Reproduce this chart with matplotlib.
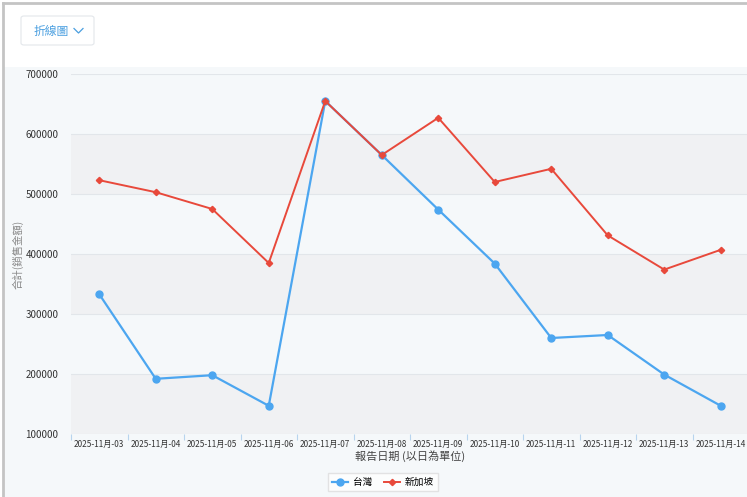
import matplotlib
matplotlib.use("Agg")
import matplotlib.pyplot as plt
from matplotlib.patches import Rectangle, FancyBboxPatch
from matplotlib.lines import Line2D

plt.rcParams['font.family'] = ['Noto Sans CJK TC', 'DejaVu Sans']

# 資料
日期 = ['2025-11月-03', '2025-11月-04', '2025-11月-05', '2025-11月-06',
      '2025-11月-07', '2025-11月-08', '2025-11月-09', '2025-11月-10',
      '2025-11月-11', '2025-11月-12', '2025-11月-13', '2025-11月-14']
台灣 = [333000, 192000, 198000, 147000, 655000, 565000,
      474000, 384000, 260000, 265000, 199000, 147000]
新加坡 = [523000, 503000, 475000, 385000, 655000, 565000,
       627000, 520000, 542000, 431000, 374000, 407000]
y_ticks = [100000, 200000, 300000, 400000, 500000, 600000, 700000]

W, H = 747, 497
fig = plt.figure(figsize=(W / 100, H / 100), dpi=100)
fig.patch.set_facecolor('white')


def fx(x):
    return x / W


def fy(y):
    return 1 - y / H


# 背景面板與外框
fig.patches.append(Rectangle((fx(4), 0), 1, fy(67), transform=fig.transFigure,
                             facecolor='#f5f8fa', edgecolor='none', zorder=-5))
fig.add_artist(Line2D([fx(3), fx(3)], [0, fy(3)], color='#c4c4c4', lw=2))
fig.add_artist(Line2D([fx(3), 1], [fy(3), fy(3)], color='#c4c4c4', lw=2))

# 下拉選單
fig.patches.append(FancyBboxPatch((fx(21), fy(45)), fx(94) - fx(21), fy(16) - fy(45),
                                  boxstyle='round,pad=0,rounding_size=0.004',
                                  transform=fig.transFigure, facecolor='white',
                                  edgecolor='#e3e7eb', lw=0.8))
fig.text(fx(34), fy(31), '折線圖', color='#4a9fe0', fontsize=8.5, va='center', ha='left')
fig.add_artist(Line2D([fx(74), fx(78.5), fx(83)], [fy(28.5), fy(33), fy(28.5)],
                      color='#4a9fe0', lw=0.9))

# 圖表
ax = fig.add_axes([fx(71), fy(434), fx(749) - fx(71), fy(74) - fy(434)])
ax.set_zorder(2)
ax.set_facecolor('#f5f8fa')
x = list(range(len(日期)))
ax.set_xlim(-0.5, len(日期) - 0.5)
ax.set_ylim(100000, 700000)

for i, lo in enumerate(y_ticks[:-1]):
    if i % 2 == 0:
        ax.axhspan(lo, lo + 100000, color='#f0f1f3', zorder=0, lw=0)
for t in y_ticks:
    ax.axhline(t, color='#e2e6ea', lw=0.8, zorder=1)

ax.plot(x, 台灣, color='#4ca6f0', lw=1.6, marker='o', ms=5, zorder=3, label='台灣')
ax.plot(x, 新加坡, color='#e8493b', lw=1.4, marker='D', ms=3.2, zorder=4, label='新加坡')

for s in ax.spines.values():
    s.set_visible(False)

ax.set_yticks(y_ticks)
ax.set_yticklabels([str(t) for t in y_ticks])
ax.tick_params(axis='y', length=0, pad=9, labelsize=7, labelcolor='#333333')

ax.set_xticks(x)
ax.set_xticklabels(日期)
ax.tick_params(axis='x', length=0, pad=4, labelsize=5.9, labelcolor='#333333')
ax.set_xticks([i - 0.5 for i in x], minor=True)
ax.tick_params(axis='x', which='minor', length=4, color='#b8d4ee', width=0.8)

ax.set_xlabel('報告日期 (以日為單位)', fontsize=8, color='#444444', labelpad=1)
ax.set_ylabel('合計(銷售金額)', fontsize=7.5, color='#888888')
ax.yaxis.set_label_coords((24 - 71) / (749 - 71), 0.5)

fig.legend(loc='center', bbox_to_anchor=(fx(383), fy(482)), ncol=2, fontsize=7,
           frameon=True, facecolor='white', edgecolor='#dddddd', fancybox=False,
           handlelength=1.6, columnspacing=1.2, borderpad=0.4, handletextpad=0.5)

fig.savefig('out.png', dpi=100)
